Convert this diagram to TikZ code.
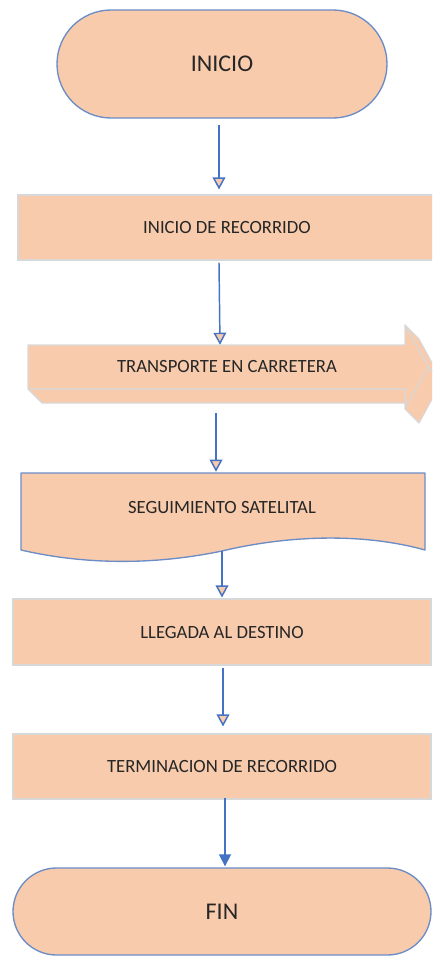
\documentclass[tikz,border=0pt]{standalone}
\usepackage{fontspec}
\setmainfont{Carlito}
\usetikzlibrary{shapes.misc,arrows.meta,calc}
\definecolor{peach}{HTML}{F8CBAD}
\definecolor{termline}{HTML}{6C8CC6}
\definecolor{conline}{HTML}{4472C4}
\definecolor{faint}{HTML}{D8D8D8}
\definecolor{txt}{HTML}{262626}
\tikzset{
  term/.style={rounded rectangle, fill=peach, draw=termline, line width=1pt,
    text=txt, font=\fontsize{18}{21}\selectfont, inner sep=0pt},
  procbox/.style={rectangle, fill=peach, draw=faint, line width=0.8pt,
    text=txt, font=\fontsize{14}{16}\selectfont, inner sep=0pt},
  plain/.style={text=txt, font=\fontsize{14}{16}\selectfont, inner sep=0pt},
  face/.style={fill=peach, draw=faint, line width=0.8pt, line join=round},
  conn/.style={draw=conline, line width=1.1pt,
    -{Triangle[length=9pt,width=9.5pt,fill=peach]}},
  connfill/.style={draw=conline, line width=1.1pt,
    -{Triangle[length=9pt,width=9pt,fill=conline]}}
}
\begin{document}
\begin{tikzpicture}[x=0.75pt,y=-0.75pt]
\useasboundingbox (0,0) rectangle (432,956);
\clip (0,0) rectangle (432,956);

% INICIO
\node[term, minimum width=330*0.75pt, minimum height=108*0.75pt] (start) at (222,64) {INICIO};

% INICIO DE RECORRIDO
\node[procbox, minimum width=418*0.75pt, minimum height=65*0.75pt] (s1) at (227,227.5) {INICIO DE RECORRIDO};

% TRANSPORTE EN CARRETERA (3D block arrow)
\path[face] (28,389) -- (405,389) -- (419,403) -- (42,403) -- cycle;
\path[face] (405,325) -- (428,367) -- (442,381) -- (419,339) -- cycle;
\path[face] (428,367) -- (405,409) -- (419,423) -- (442,381) -- cycle;
\path[face] (28,345) -- (405,345) -- (405,325) -- (428,367) -- (405,409) -- (405,389) -- (28,389) -- cycle;
\node[plain, minimum height=44*0.75pt] (tr) at (227,367) {TRANSPORTE EN CARRETERA};

% SEGUIMIENTO SATELITAL (document shape)
\path[fill=peach, draw=termline, line width=1pt, line join=round]
  (21,473) -- (425,473) -- (425,550)
  .. controls (360,532) and (285,536) .. (222,551)
  .. controls (160,564) and (90,566) .. (21,550) -- cycle;
\node[plain, minimum height=70*0.75pt] (doc) at (222,508) {SEGUIMIENTO SATELITAL};

% LLEGADA AL DESTINO
\node[procbox, minimum width=418*0.75pt, minimum height=66*0.75pt] (s4) at (222,632) {LLEGADA AL DESTINO};

% TERMINACION DE RECORRIDO
\node[procbox, minimum width=418*0.75pt, minimum height=65*0.75pt] (s5) at (222,766.5) {TERMINACION DE RECORRIDO};

% FIN
\node[term, minimum width=418*0.75pt, minimum height=87*0.75pt] (fin) at (222,911.5) {FIN};

% connectors
\draw[conn] ($(start.south)+(-3,6)$) -- ($(s1.north)+(-8,-5)$);
\draw[conn] ($(s1.south)+(-8,2)$) -- ($(tr.north)+(-7,0)$);
\draw[conn] ($(tr.south)+(-11,24)$) -- ($(doc.north)+(-6,-1)$);
\draw[conn] ($(doc.south)+(0,8)$) -- ($(s4.north)+(0,-1)$);
\draw[conn] ($(s4.south)+(1,2)$) -- ($(s5.north)+(1,-7)$);
\draw[connfill] ($(s5.south)+(3,-2)$) -- ($(fin.north)+(3,-1)$);
\end{tikzpicture}
\end{document}
